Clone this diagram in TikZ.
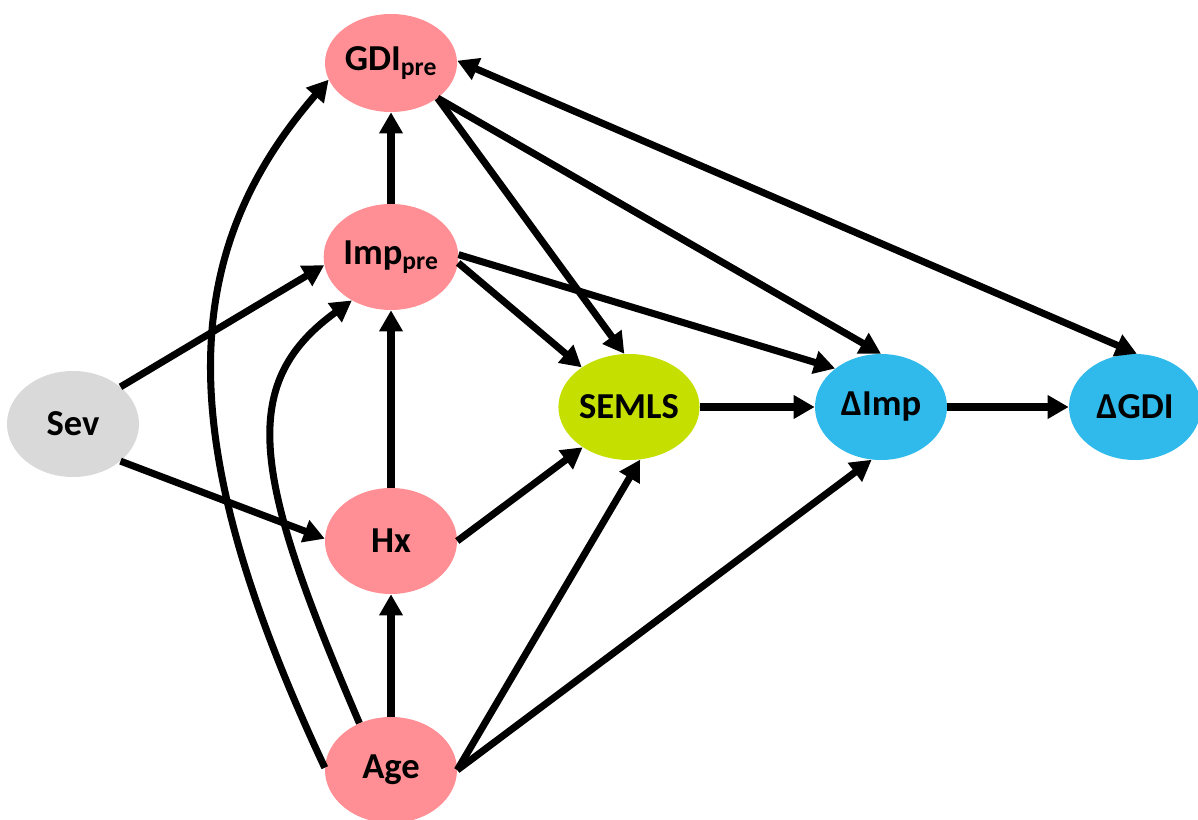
\documentclass[tikz,border=0pt]{standalone}
\usepackage{fontspec}
\setmainfont{Carlito}
\usetikzlibrary{arrows.meta,shapes.geometric}
\definecolor{rose}{RGB}{255,143,148}
\definecolor{fog}{RGB}{217,217,217}
\definecolor{lime}{RGB}{196,223,0}
\definecolor{sky}{RGB}{48,186,235}
\tikzset{
  >={Triangle[length=15pt,width=16pt]},
  var/.style={ellipse,fill=#1,minimum width=3.3cm,minimum height=2.65cm,inner sep=0pt,
    font=\fontsize{26}{30}\selectfont\bfseries},
  var/.default=rose,
  link/.style={->,line width=5pt},
}
\begin{document}
\begin{tikzpicture}
  \useasboundingbox (0,0) rectangle (29.95,-20.5);
  % variables
  \node[var,minimum height=2.45cm] (gdi) at (9.775,-1.575) {GDI\textsubscript{pre}};
  \node[var] (imp) at (9.775,-6.425) {Imp\textsubscript{pre}};
  \node[var=fog] (sev) at (1.825,-10.6) {Sev};
  \node[var] (hx) at (9.775,-13.525) {Hx};
  \node[var] (age) at (9.775,-19.25) {Age};
  \node[var=lime] (semls) at (15.725,-10.175) {SEMLS};
  \node[var=sky] (dimp) at (22.025,-10.175) {ΔImp};
  \node[var=sky] (dgdi) at (28.375,-10.175) {ΔGDI};
  % paths
  \draw[link] (sev.38) -- (imp.187);
  \draw[link] (sev.322) -- (hx.178);
  \draw[link] (imp) -- (gdi);
  \draw[link] (hx) -- (imp);
  \draw[link] (age) -- (hx);
  \draw[link] (age.178) .. controls (4.4,-11.25) and (4.3,-6.5) .. (gdi.195);
  \draw[link] (age.124) .. controls (6.375,-12) and (5.875,-9.625) .. (imp.228);
  \draw[link] (hx.0) -- (semls.221);
  \draw[link] (imp.-5) -- (semls.140);
  \draw[link] (imp.2) -- (dimp.140);
  \draw[link] (gdi.-37) -- (semls.95);
  \draw[link] (gdi.-37) -- (dimp.90);
  \draw[link,<->] (gdi.2) -- (dgdi.88);
  \draw[link] (semls) -- (dimp);
  \draw[link] (dimp) -- (dgdi);
  \draw[link] (age.0) -- (semls.-78);
  \draw[link] (age.0) -- (dimp.-100);
\end{tikzpicture}
\end{document}
